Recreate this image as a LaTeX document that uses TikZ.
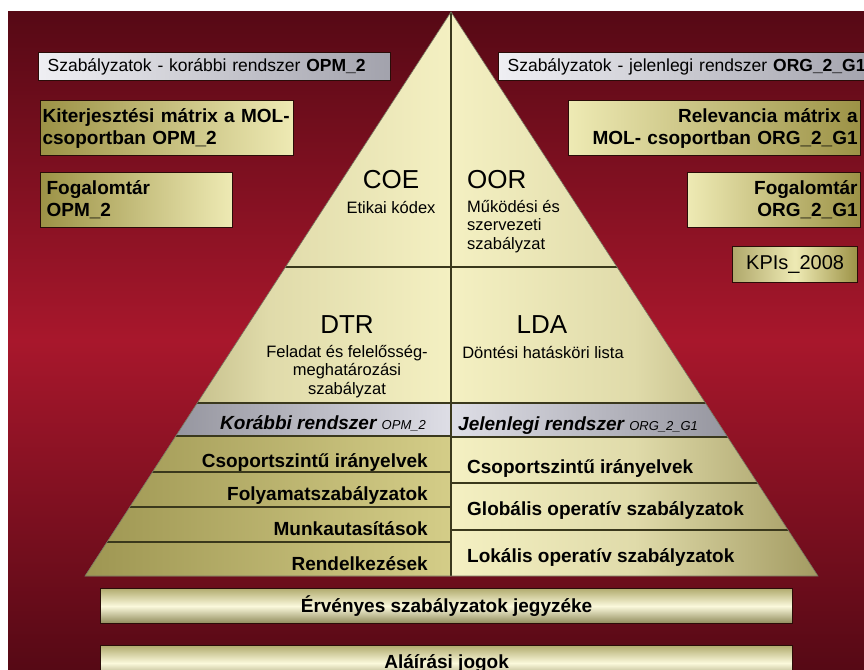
\documentclass[tikz,border=0pt]{standalone}
\usepackage{fontspec}
\setmainfont{Liberation Sans}

\definecolor{bgdark}{HTML}{560915}
\definecolor{bgmid}{HTML}{A8172C}
\definecolor{pyrpale}{HTML}{F4F0C2}
\definecolor{pyrgold}{HTML}{A39B62}
\definecolor{rowolive}{HTML}{9E9652}
\definecolor{rowgold}{HTML}{D4CD88}
\definecolor{bandlt}{HTML}{DEDEE6}
\definecolor{banddk}{HTML}{7E7E88}
\definecolor{silverlt}{HTML}{EFEFF3}
\definecolor{silverdk}{HTML}{A2A2AC}
\definecolor{goldpale}{HTML}{EEEAB4}
\definecolor{goldolive}{HTML}{9C9246}
\definecolor{barpale}{HTML}{FBF9DC}
\definecolor{barolive}{HTML}{B2AC70}
\definecolor{boxedge}{HTML}{2A0C08}
\definecolor{linecol}{HTML}{3A381C}

\begin{document}
\begin{tikzpicture}[x=1pt, y=-1pt,
		boxline/.style={draw=boxedge, line width=1.2pt},
		silverbox/.style={boxline, left color=silverlt, right color=silverdk, inner xsep=9pt, inner ysep=0pt,
			minimum height=28pt, align=left, anchor=north west, font=\fontsize{17.5}{20}\selectfont},
		goldbox/.style={boxline, inner ysep=0pt, minimum height=55pt, anchor=north west,
			font=\fontsize{19}{22}\selectfont\bfseries},
		goldleft/.style={goldbox, left color=goldolive, right color=goldpale, align=left},
		goldright/.style={goldbox, left color=goldpale, right color=goldolive, align=right},
		barbox/.style={boxline, top color=barolive, bottom color=barolive!80!black, middle color=barpale,
			minimum width=692pt, minimum height=35pt, anchor=north west, font=\fontsize{19}{22}\selectfont\bfseries},
		rowline/.style={draw=linecol, line width=1.1pt},
		bigtxt/.style={inner sep=0pt, font=\fontsize{26}{30}\selectfont},
		subtxt/.style={inner sep=0pt, font=\fontsize{16.5}{18.5}\selectfont},
		rowtxt/.style={inner sep=0pt, font=\fontsize{19}{22}\selectfont\bfseries},
		bandtxt/.style={inner sep=0pt, font=\fontsize{19}{22}\selectfont\bfseries\itshape}]
	\useasboundingbox (0,0) rectangle (864,669);
	\shade[top color=bgdark, bottom color=bgdark, middle color=bgmid] (8,12) rectangle (864,669);
	
	\coordinate (apex) at (451,12);
	\coordinate (baseL) at (85,576);
	\coordinate (baseM) at (451,576);
	\coordinate (baseR) at (818,576);
	
	% pyramid, left half
	\begin{scope}
		\clip (apex) -- (baseL) -- (baseM) -- cycle;
		\shade[left color=pyrgold, right color=pyrpale, middle color=pyrpale!75!pyrgold] (85,12) rectangle (451,576);
		\shade[left color=banddk, right color=bandlt] (85,403) rectangle (451,436);
		\shade[left color=rowolive, right color=rowgold] (85,436) rectangle (451,576);
		\foreach \y in {267, 403, 436, 472, 507, 542}
			\draw[rowline] (85,\y) -- (451,\y);
	\end{scope}
	% pyramid, right half
	\begin{scope}
		\clip (apex) -- (baseR) -- (baseM) -- cycle;
		\shade[left color=pyrpale, right color=pyrgold, middle color=pyrpale!75!pyrgold] (451,12) rectangle (818,576);
		\shade[left color=bandlt, right color=banddk] (451,403) rectangle (818,437);
		\foreach \y in {267, 403, 437, 483, 530}
			\draw[rowline] (451,\y) -- (818,\y);
	\end{scope}
	\draw[rowline] (apex) -- (baseM);
	\draw[draw=linecol!70, line width=0.6pt] (apex) -- (baseL) -- (baseR) -- cycle;
	
	% top of the pyramid
	\node[bigtxt, anchor=base] (coe) at (391,188) {COE};
	\node[subtxt, anchor=base] (coetxt) at (391,213) {Etikai kódex};
	\node[bigtxt, anchor=base west] (oor) at (467,188) {OOR};
	\node[subtxt, anchor=north west, align=left] (oortxt) at (467,200) {Működési és\\szervezeti\\szabályzat};
	\node[bigtxt, anchor=base] (dtr) at (347,333) {DTR};
	\node[subtxt, anchor=north, align=center] (dtrtxt) at (347,345) {Feladat és felelősség-\\meghatározási\\szabályzat};
	\node[bigtxt, anchor=base] (lda) at (542,333) {LDA};
	\node[subtxt, anchor=base] (ldatxt) at (543,358) {Döntési hatásköri lista};
	
	% bands
	\node[bandtxt, anchor=base east] (oldband) at (426,429)
		{Korábbi rendszer {\mdseries\fontsize{13}{15}\selectfont OPM\_2}};
	\node[bandtxt, anchor=base west] (newband) at (458,430)
		{Jelenlegi rendszer {\mdseries\fontsize{13}{15}\selectfont ORG\_2\_G1}};
	
	% rows
	\foreach \y/\txt [count=\i] in {467/Csoportszintű irányelvek, 500/Folyamatszabályzatok,
			535/Munkautasítások, 570/Rendelkezések}
		\node[rowtxt, anchor=base east] (oldrow\i) at (428,\y) {\txt};
	\foreach \y/\txt [count=\i] in {473/Csoportszintű irányelvek, 515/Globális operatív szabályzatok,
			562/Lokális operatív szabályzatok}
		\node[rowtxt, anchor=base west] (newrow\i) at (467,\y) {\txt};
	
	% boxes on the left
	\node[silverbox, text width=334pt] (oldsys) at (38,52)
		{Szabályzatok - korábbi rendszer \textbf{OPM\_2}};
	\node[goldleft, text width=249pt, inner xsep=2pt] (oldmatrix) at (40,100)
		{\mbox{Kiterjesztési mátrix a MOL-}\\csoportban OPM\_2};
	\node[goldleft, text width=180pt, inner xsep=6pt] (oldterms) at (40,172) {Fogalomtár\\OPM\_2};
	
	% boxes on the right
	\node[silverbox, text width=362pt] (newsys) at (498,52)
		{Szabályzatok - jelenlegi rendszer \textbf{ORG\_2\_G1}};
	\node[goldright, text width=286pt, inner xsep=3pt] (newmatrix) at (568,100)
		{Relevancia mátrix a\\MOL- csoportban ORG\_2\_G1};
	\node[goldright, text width=167pt, inner xsep=3pt] (newterms) at (687,172) {Fogalomtár\\ORG\_2\_G1};
	\node[boxline, left color=goldolive!80, right color=goldolive, middle color=goldpale,
		minimum width=125pt, minimum height=36pt, inner sep=0pt, anchor=north west,
		font=\fontsize{20}{22}\selectfont] (kpis) at (732,246) {KPIs\_2008};
	
	% bars below
	\node[barbox] (valid) at (100,588) {Érvényes szabályzatok jegyzéke};
	\node[barbox] (signing) at (100,645) {Aláírási jogok};
\end{tikzpicture}
\end{document}
